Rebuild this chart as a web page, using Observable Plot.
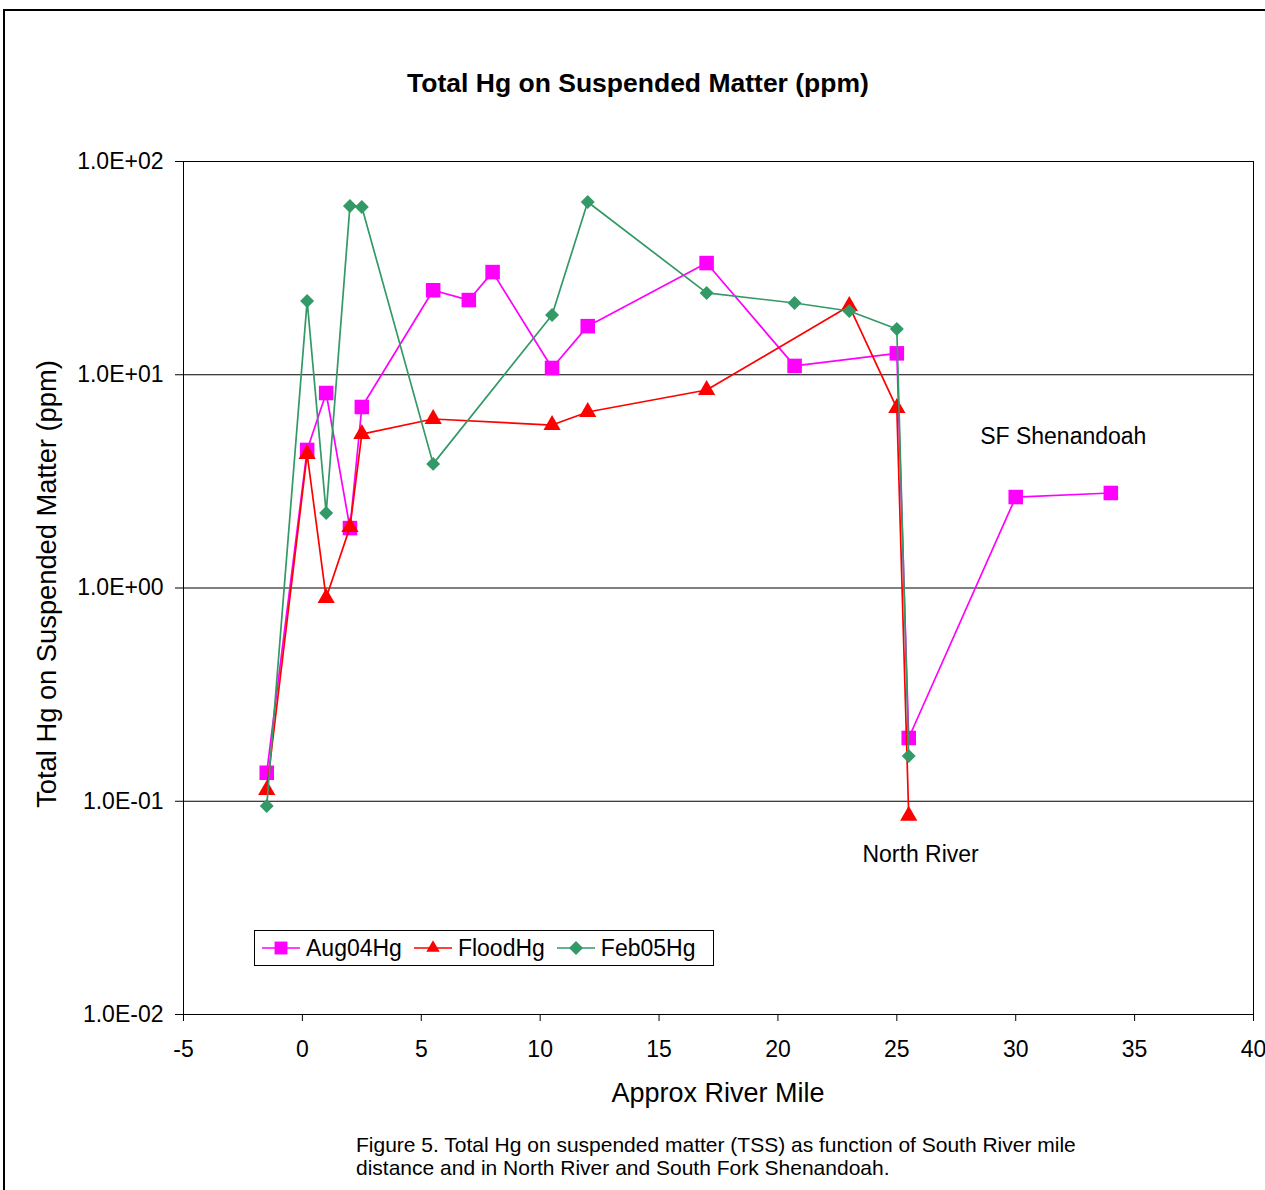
<!DOCTYPE html>
<html>
<head>
<meta charset="utf-8">
<script src="https://cdn.jsdelivr.net/npm/d3@7"></script>
<script src="https://cdn.jsdelivr.net/npm/@observablehq/plot@0.6"></script>
<style>
  html, body { margin: 0; padding: 0; background: #fff; overflow: hidden; }
  body { font-family: "Liberation Sans", Arial, sans-serif; }
  #wrap { position: relative; width: 1265px; height: 1190px; overflow: hidden; }
  #border { position: absolute; left: 3px; top: 9px; width: 1400px; height: 1400px;
            border-left: 2px solid #000; border-top: 2px solid #000; box-sizing: border-box; }
  #chart { position: absolute; left: 0; top: 0; }
  .ov { position: absolute; white-space: nowrap; color: #000; }
  #title { left: 638px; top: 83px; transform: translate(-50%, -50%); font-size: 26.5px; font-weight: bold; }
  #xtitle { left: 718px; top: 1093px; transform: translate(-50%, -50%); font-size: 27px; }
  #ytitle { left: 47px; top: 584px; transform: translate(-50%, -50%) rotate(-90deg); font-size: 27.3px; }
  #caption { left: 356px; top: 1133px; font-size: 21px; line-height: 23px; white-space: nowrap; }
  #legend { position: absolute; left: 254px; top: 930px; width: 460px; height: 36px; box-sizing: border-box;
            border: 1px solid #000; background: #fff; display: flex; align-items: center; padding-left: 7px; font-size: 23px; }
  .item { display: flex; align-items: center; margin-right: 12px; }
  .item svg { display: block; margin-right: 6px; }
</style>
</head>
<body>
<div id="wrap">
  <div id="border"></div>
  <div id="chart"></div>
  <div class="ov" id="title">Total Hg on Suspended Matter (ppm)</div>
  <div class="ov" id="xtitle">Approx River Mile</div>
  <div class="ov" id="ytitle">Total Hg on Suspended Matter (ppm)</div>
  <div class="ov" id="caption">Figure 5. Total Hg on suspended matter (TSS) as function of South River mile<br>distance and in North River and South Fork Shenandoah.</div>
  <div id="legend"></div>
</div>
<script>
// ---- data ----
const aug04Mile = [-1.5, 0.2, 1, 2, 2.5, 5.5, 7, 8, 10.5, 12, 17, 20.7, 25, 25.5, 30, 34];
const aug04Hg   = [0.136, 4.44, 8.21, 1.91, 7.06, 24.9, 22.4, 30.3, 10.76, 16.9, 33.4, 11.0, 12.6, 0.198, 2.67, 2.79];

const floodMile = [-1.5, 0.2, 1, 2, 2.5, 5.5, 10.5, 12, 17, 23, 25, 25.5];
const floodHg   = [0.113, 4.25, 0.897, 1.93, 5.27, 6.20, 5.81, 6.69, 8.48, 21.0, 6.98, 0.0855];

const feb05Mile = [-1.5, 0.2, 1, 2, 2.5, 5.5, 10.5, 12, 17, 20.7, 23, 25, 25.5];
const feb05Hg   = [0.095, 22.2, 2.25, 61.9, 61.2, 3.82, 19.05, 64.6, 24.2, 21.7, 19.9, 16.4, 0.163];

const seriesNames   = ["Aug04Hg", "FloodHg", "Feb05Hg"];
const seriesColors  = ["#FF00FF", "#FF0000", "#339966"];
const seriesSymbols = ["square", "triangle", "diamond2"];
const seriesR       = [8.2, 6.4, 6.3];

const yTicks = [0.01, 0.1, 1, 10, 100];
const yTickLabels = ["1.0E-02", "1.0E-01", "1.0E+00", "1.0E+01", "1.0E+02"];
const xTicks = [-5, 0, 5, 10, 15, 20, 25, 30, 35, 40];
const gridValues = [0.1, 1, 10];

const annotText = ["SF Shenandoah", "North River"];
const annotMile = [32, 26];
const annotHg   = [5.1, 0.056];

// ---- build tables ----
const miles = [aug04Mile, floodMile, feb05Mile];
const vals  = [aug04Hg, floodHg, feb05Hg];
const series = seriesNames.map((name, i) => miles[i].map((m, j) => ({mile: m, hg: vals[i][j], series: name})));
const annots = annotText.map((t, i) => ({text: t, mile: annotMile[i], hg: annotHg[i]}));

const marks = [
  Plot.ruleY(gridValues, {stroke: "#000", strokeWidth: 1}),
  Plot.frame({stroke: "#000", strokeWidth: 1})
];
series.forEach((data, i) => {
  marks.push(Plot.line(data, {x: "mile", y: "hg", stroke: seriesColors[i], strokeWidth: 1.7}));
  marks.push(Plot.dot(data, {x: "mile", y: "hg", symbol: seriesSymbols[i], r: seriesR[i], fill: seriesColors[i], stroke: "none"}));
});
marks.push(Plot.text(annots, {x: "mile", y: "hg", text: "text", fontSize: 23, fill: "#000"}));
marks.push(Plot.axisY({ticks: yTicks, tickFormat: (d) => yTickLabels[yTicks.indexOf(d)], tickSize: 8, tickPadding: 12, label: null, fontSize: 23}));
marks.push(Plot.axisX({ticks: xTicks, tickFormat: (d) => String(d), tickSize: 7, tickPadding: 19, label: null, fontSize: 23}));

const chart = Plot.plot({
  width: 1265,
  height: 1190,
  marginLeft: 183,
  marginRight: 12,
  marginTop: 161,
  marginBottom: 176,
  style: {fontFamily: "'Liberation Sans', Arial, sans-serif", fontSize: "23px", background: "transparent", color: "#000"},
  x: {domain: [-5, 40]},
  y: {type: "log", domain: [0.01, 100]},
  marks
});
document.getElementById("chart").appendChild(chart);

// ---- legend ----
const legend = document.getElementById("legend");
const symbolGen = {square: d3.symbolSquare2, triangle: d3.symbolTriangle2, diamond2: d3.symbolDiamond2};
seriesNames.forEach((name, i) => {
  const item = document.createElement("div");
  item.className = "item";
  const svg = d3.create("svg").attr("width", 38).attr("height", 20);
  svg.append("line").attr("x1", 0).attr("x2", 38).attr("y1", 10).attr("y2", 10)
     .attr("stroke", seriesColors[i]).attr("stroke-width", 1.7);
  svg.append("path").attr("transform", "translate(19,10)")
     .attr("d", d3.symbol(symbolGen[seriesSymbols[i]], Math.PI * seriesR[i] * seriesR[i])())
     .attr("fill", seriesColors[i]);
  item.appendChild(svg.node());
  const span = document.createElement("span");
  span.textContent = name;
  item.appendChild(span);
  legend.appendChild(item);
});
</script>
</body>
</html>
